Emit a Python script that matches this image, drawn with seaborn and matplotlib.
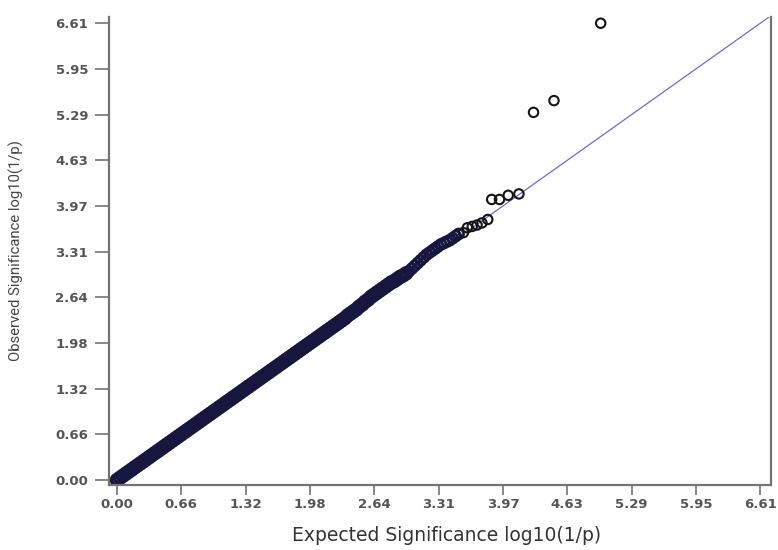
import matplotlib
matplotlib.use("Agg")
import matplotlib.pyplot as plt
import seaborn as sns
import pandas as pd

# Dense part of the QQ band (expected vs observed)
band_expected = [
    0.00, 0.03, 0.06, 0.09, 0.12, 0.15, 0.18, 0.21, 0.24, 0.27,
    0.30, 0.33, 0.36, 0.39, 0.42, 0.45, 0.48, 0.51, 0.54, 0.57,
    0.60, 0.63, 0.66, 0.69, 0.72, 0.75, 0.78, 0.81, 0.84, 0.87,
    0.90, 0.93, 0.96, 0.99, 1.02, 1.05, 1.08, 1.11, 1.14, 1.17,
    1.20, 1.23, 1.26, 1.29, 1.32, 1.35, 1.38, 1.41, 1.44, 1.47,
    1.50, 1.53, 1.56, 1.59, 1.62, 1.65, 1.68, 1.71, 1.74, 1.77,
    1.80, 1.83, 1.86, 1.89, 1.92, 1.95, 1.98, 2.01, 2.04, 2.07,
    2.10, 2.13, 2.16, 2.19, 2.22, 2.25, 2.28, 2.31, 2.34, 2.37,
    2.40, 2.43, 2.46, 2.49, 2.52, 2.55, 2.58, 2.61, 2.64, 2.67,
    2.70, 2.73, 2.76, 2.79, 2.82, 2.85, 2.88, 2.91, 2.94, 2.97,
]
band_observed = [
    0.00, 0.03, 0.06, 0.09, 0.12, 0.15, 0.18, 0.21, 0.24, 0.27,
    0.30, 0.33, 0.36, 0.39, 0.42, 0.45, 0.48, 0.51, 0.54, 0.57,
    0.60, 0.63, 0.66, 0.69, 0.72, 0.75, 0.78, 0.81, 0.84, 0.87,
    0.90, 0.93, 0.96, 0.99, 1.02, 1.05, 1.08, 1.11, 1.14, 1.17,
    1.20, 1.23, 1.26, 1.29, 1.32, 1.35, 1.38, 1.41, 1.44, 1.47,
    1.50, 1.53, 1.56, 1.59, 1.62, 1.65, 1.68, 1.71, 1.74, 1.77,
    1.80, 1.83, 1.86, 1.89, 1.92, 1.95, 1.98, 2.01, 2.04, 2.07,
    2.10, 2.13, 2.16, 2.19, 2.22, 2.25, 2.28, 2.31, 2.34, 2.38,
    2.41, 2.44, 2.47, 2.51, 2.54, 2.58, 2.61, 2.65, 2.68, 2.71,
    2.74, 2.77, 2.80, 2.83, 2.86, 2.88, 2.91, 2.94, 2.96, 2.99,
]
# Thinner upper part of the band
upper_expected = [3.00, 3.03, 3.06, 3.09, 3.12, 3.15, 3.18, 3.21, 3.24, 3.27,
                  3.30, 3.33, 3.36, 3.39, 3.42, 3.45, 3.48, 3.51]
upper_observed = [3.02, 3.06, 3.10, 3.14, 3.18, 3.22, 3.26, 3.29, 3.32, 3.35,
                  3.38, 3.41, 3.43, 3.45, 3.47, 3.50, 3.53, 3.56]
# Sparse upper tail
tail_expected = [3.56, 3.60, 3.65, 3.70, 3.75, 3.81, 3.85, 3.93, 4.02, 4.13, 4.28, 4.49, 4.97]
tail_observed = [3.58, 3.65, 3.67, 3.69, 3.72, 3.77, 4.06, 4.06, 4.12, 4.14, 5.32, 5.49, 6.61]

tick_values = [0.0, 0.661, 1.322, 1.983, 2.644, 3.305, 3.966, 4.627, 5.288, 5.949, 6.61]
tick_labels = ["0.00", "0.66", "1.32", "1.98", "2.64", "3.31", "3.97", "4.63", "5.29", "5.95", "6.61"]

band_df = pd.DataFrame({"expected": band_expected, "observed": band_observed})
upper_df = pd.DataFrame({"expected": upper_expected, "observed": upper_observed})
tail_df = pd.DataFrame({"expected": tail_expected, "observed": tail_observed})

sns.set_theme(style="white")
plt.rcParams["font.family"] = ["DejaVu Sans"]

fig = plt.figure(figsize=(7.78, 5.5), dpi=100)
ax = fig.add_axes([109 / 778, 1 - 485 / 550, (771 - 109) / 778, (485 - 17) / 550])

ax.axline((0, 0), slope=1, color="#6b6bd6", lw=0.9, zorder=1)
sns.scatterplot(data=band_df, x="expected", y="observed", ax=ax, s=62,
                facecolor="none", edgecolor="#16163e", linewidth=2.6,
                marker="o", zorder=2, legend=False)
sns.scatterplot(data=upper_df, x="expected", y="observed", ax=ax, s=52,
                facecolor="none", edgecolor="#16163e", linewidth=1.9,
                marker="o", zorder=2, legend=False)
sns.scatterplot(data=tail_df, x="expected", y="observed", ax=ax, s=46,
                facecolor="none", edgecolor="#151515", linewidth=1.5,
                marker="o", zorder=3, legend=False)

ax.set_xlim(-0.082, 6.72)
ax.set_ylim(-0.072, 6.70)
ax.set_xticks(tick_values)
ax.set_xticklabels(tick_labels)
ax.set_yticks(tick_values)
ax.set_yticklabels(tick_labels)

for side in ["left", "bottom", "right"]:
    ax.spines[side].set_visible(True)
    ax.spines[side].set_color("#737373")
    ax.spines[side].set_linewidth(1.6)
ax.spines["top"].set_visible(False)

ax.tick_params(axis="x", direction="out", length=7.5, width=1.2, color="#737373",
               labelsize=9.5, labelcolor="#555555", pad=2, bottom=True)
ax.tick_params(axis="y", direction="out", length=10, width=1.2, color="#737373",
               labelsize=9.5, labelcolor="#555555", pad=5, left=True)
for lab in ax.get_xticklabels() + ax.get_yticklabels():
    lab.set_fontweight("bold")

ax.set_xlabel("Expected Significance log10(1/p)", fontsize=13.5, color="#333333")
ax.xaxis.set_label_coords(0.51, -0.088)
ax.set_ylabel("Observed Significance log10(1/p)", fontsize=10.7, color="#444444",
              family=["Roboto", "DejaVu Sans"])
ax.yaxis.set_label_coords(-0.128, 0.5)

fig.savefig("out.png", dpi=100)
